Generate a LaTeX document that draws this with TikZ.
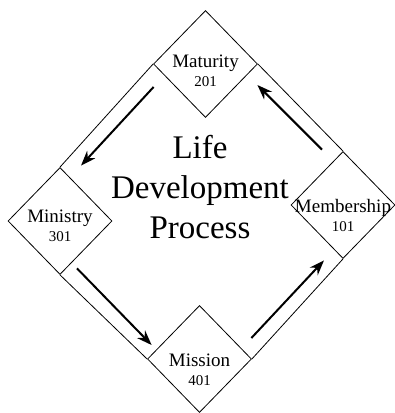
\documentclass[tikz,border=0pt]{standalone}
\usepackage{fontspec}
\setmainfont{Liberation Serif}
\usetikzlibrary{shapes.geometric,arrows.meta}
\newcommand{\numfont}{\fontsize{15}{18}\selectfont}
\begin{document}
\begin{tikzpicture}[x=1pt, y=1pt, >={Stealth[length=15pt,width=11pt]}]
	\tikzset{stage/.style={draw, shape=diamond, minimum width=104pt, minimum height=107pt, inner sep=0pt, line width=0.8pt},
		stagetext/.style={align=center, font=\fontsize{19}{19}\selectfont, inner sep=0pt},
		flow/.style={->, line width=2pt}}
	\useasboundingbox (0,0) rectangle (395,413);
	% the four stages
	\node[stage, label={[stagetext, yshift=-7pt]center:{Maturity\\{\numfont 201}}}] (mat) at (205.5,349) {};
	\node[stage, label={[stagetext, yshift=-10pt]center:{Membership\\{\numfont 101}}}] (mem) at (343,208) {};
	\node[stage, label={[stagetext, yshift=-5pt]center:{Ministry\\{\numfont 301}}}] (min) at (60,192) {};
	\node[stage, label={[stagetext, yshift=-11pt]center:{Mission\\{\numfont 401}}}] (mis) at (199.5,54) {};
	\node[align=center, inner sep=0pt, font=\fontsize{33}{40}\selectfont] (title) at (200,226) {Life\\Development\\Process};
	% outer sides
	\draw[line width=0.8pt] (mat.west)--(min.north) (min.south)--(mis.west)
		(mis.east)--(mem.south) (mem.north)--(mat.east);
	% arrows
	\draw[flow] ([shift={(0.5,-23)}]mat.west)--([shift={(21,1.5)}]min.north);
	\draw[flow] ([shift={(17,6.5)}]min.south)--([shift={(4.5,14)}]mis.west);
	\draw[flow] ([shift={(-0.5,21)}]mis.east)--([shift={(-19,-1.5)}]mem.south);
	\draw[flow] ([shift={(-21,1.5)}]mem.north)--([shift={(-0.5,-21)}]mat.east);
\end{tikzpicture}
\end{document}
